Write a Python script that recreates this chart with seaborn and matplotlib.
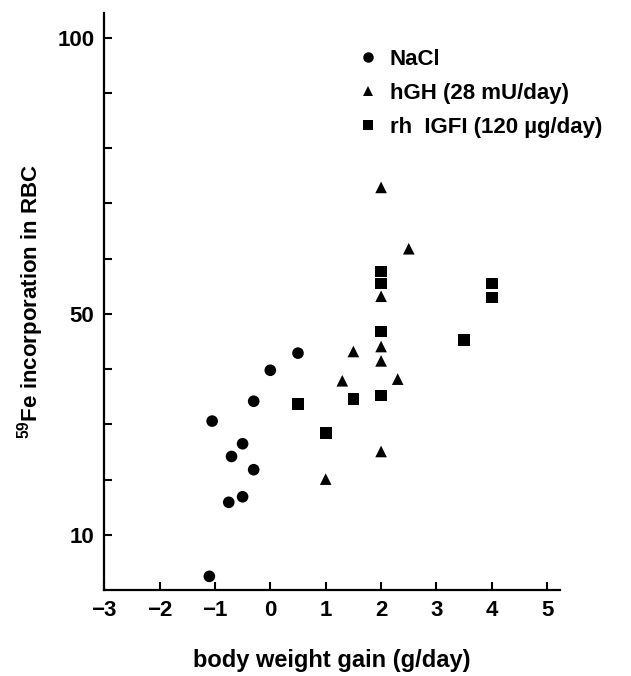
import pandas as pd
import numpy as np
import matplotlib
matplotlib.use("Agg")
import matplotlib.pyplot as plt
import seaborn as sns

# values
groups = ["NaCl", "hGH (28 mU/day)", "rh  IGFI (120 \u00b5g/day)"]

nacl_x = [0.5, 0.0, -0.3, -1.05, -0.5, -0.7, -0.3, -0.5, -0.75, -1.1]
nacl_y = [42.9, 39.8, 34.2, 30.6, 26.5, 24.2, 21.8, 16.9, 15.9, 2.5]

hgh_x = [2.0, 2.5, 2.0, 1.5, 2.0, 2.0, 1.3, 2.3, 2.0, 1.0]
hgh_y = [72.9, 61.8, 53.2, 43.2, 44.1, 41.5, 37.9, 38.2, 25.1, 20.1]

igf_x = [0.5, 1.0, 1.5, 2.0, 2.0, 2.0, 2.0, 3.5, 4.0, 4.0]
igf_y = [33.7, 28.5, 34.6, 35.2, 46.8, 55.5, 57.7, 45.3, 55.5, 53.0]

y_ticks = [10, 20, 30, 40, 50, 60, 70, 80, 90, 100]
y_labels = ["10", "", "", "", "50", "", "", "", "", "100"]
x_ticks = [-3, -2, -1, 0, 1, 2, 3, 4, 5]

df = pd.DataFrame({
    "gain": nacl_x + hgh_x + igf_x,
    "fe": nacl_y + hgh_y + igf_y,
    "group": [groups[0]] * len(nacl_x) + [groups[1]] * len(hgh_x) + [groups[2]] * len(igf_x),
})

sns.set_style("ticks")
plt.rcParams["font.family"] = ["Liberation Sans", "DejaVu Sans"]
plt.rcParams["font.weight"] = "bold"
plt.rcParams["mathtext.fontset"] = "custom"
plt.rcParams["mathtext.rm"] = "Liberation Sans:bold"
plt.rcParams["mathtext.default"] = "rm"
for key in ["text.color", "axes.labelcolor", "xtick.color", "ytick.color", "axes.edgecolor"]:
    plt.rcParams[key] = "black"

fig = plt.figure(figsize=(6.31, 6.76), dpi=100)
ax = fig.add_axes([0.165, 0.127, 0.7225, 0.854])

sns.scatterplot(data=df, x="gain", y="fe", style="group",
                markers={groups[0]: "o", groups[1]: "^", groups[2]: "s"},
                color="black", edgecolor="black", linewidth=0, s=70, ax=ax)

ax.set_xlim(-3, 5.23)
ax.set_ylim(0, 104.5)
ax.set_xticks(x_ticks)
ax.set_xticklabels([str(v).replace("-", "\u2212") for v in x_ticks])
ax.set_yticks(y_ticks)
ax.set_yticklabels(y_labels)

ax.tick_params(direction="in", length=6, width=1.5, labelsize=16, pad=7)
for side in ["top", "right"]:
    ax.spines[side].set_visible(False)
for side in ["left", "bottom"]:
    ax.spines[side].set_linewidth(1.6)

ax.set_xlabel("body weight gain (g/day)", fontsize=17, fontweight="bold", labelpad=20)
ax.set_ylabel(r"$^{59}$Fe incorporation in RBC", fontsize=16, fontweight="bold", labelpad=8)

sns.move_legend(ax, "upper left", bbox_to_anchor=(0.50, 0.972), frameon=False,
                title=None, fontsize=16, handletextpad=0.3, handlelength=1.4,
                labelspacing=0.58, markerscale=0.9)

fig.savefig("out.png", dpi=100)
